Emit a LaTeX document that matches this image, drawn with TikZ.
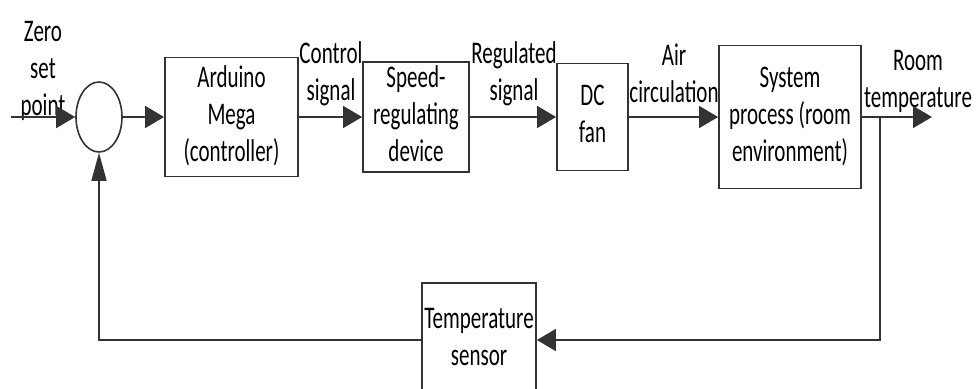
\documentclass[tikz,border=0pt]{standalone}
\usepackage{fontspec}
\setmainfont{Carlito}
\usepackage{graphicx}
\usetikzlibrary{arrows.meta, shapes.geometric}

\newcommand{\tallrows}[1]{\scalebox{1}[1.5]{\begin{tabular}[b]{@{}c@{}}#1\end{tabular}}}

\begin{document}
\begin{tikzpicture}[
        x=0.5pt, y=-0.5pt,
        block/.style={rectangle, draw=black!80, line width=0.9pt, inner sep=0pt},
        junction/.style={ellipse, draw=black!80, line width=0.8pt, minimum width=23pt, minimum height=35pt, inner sep=0pt},
        lbl/.style={inner sep=0pt, anchor=base},
        flow/.style={draw=black!80, line width=0.8pt, -{Triangle[length=9.5pt, width=11pt]}},
        rise/.style={draw=black!80, line width=0.8pt, -{Triangle[length=14pt, width=7.5pt]}},
        font=\fontsize{10.5}{12.3}\selectfont
    ]

    \useasboundingbox (0,0) rectangle (976,388);
    \clip (0,0) rectangle (976,388);

    % forward path
    \node[junction] (sum) at (99,117) {};
    \node[block, minimum width=66.5pt, minimum height=59.5pt] (mega) at (231.5,117) {\tallrows{Arduino\\Mega\\(controller)}};
    \node[block, minimum width=53pt, minimum height=53.5pt] (speed) at (416,117) {\tallrows{Speed-\\regulating\\device}};
    \node[block, minimum width=35.5pt, minimum height=53.5pt] (fan) at (592.5,117) {\tallrows{DC\\fan}};
    \node[block, minimum width=71pt, minimum height=71.5pt] (room) at (790,117) {\tallrows{System\\process (room\\environment)}};

    % feedback
    \node[block, minimum width=57pt, minimum height=57pt] (sensor) at (479,340) {\tallrows{Temperature\\sensor}};

    \coordinate (in) at (11,117);
    \coordinate (out) at (932,117);
    \coordinate (tap) at (880,117);

    \node[lbl] (zero) at (43,115) {\tallrows{Zero\\set\\point}};
    \node[lbl] (ctrl) at (331,100) {\tallrows{Control\\signal}};
    \node[lbl] (reg) at (514,100) {\tallrows{Regulated\\signal}};
    \node[lbl] (air) at (674,102) {\tallrows{Air\\circulation}};
    \node[lbl] (temp) at (918,107) {\tallrows{Room\\temperature}};

    \draw[flow] (in) -- (sum.west);
    \draw[flow] (sum.east) -- (mega.west);
    \draw[flow] (mega.east) -- (speed.west);
    \draw[flow] (speed.east) -- (fan.west);
    \draw[flow] (fan.east) -- (room.west);
    \draw[flow] (room.east) -- (out);
    \draw[flow] (tap) |- (sensor.east);
    \draw[rise] (sensor.west) -| (sum.south);

\end{tikzpicture}
\end{document}
